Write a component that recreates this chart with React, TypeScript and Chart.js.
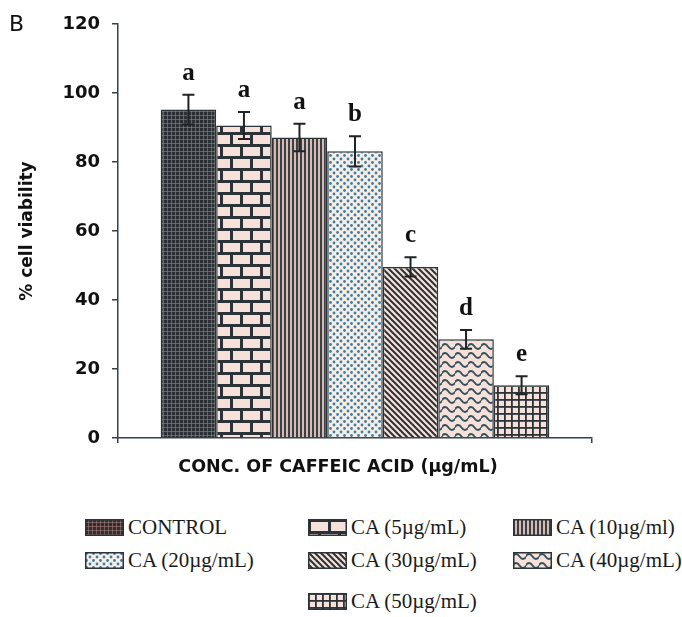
import React, { useEffect, useRef } from "react";
import { Chart, registerables } from "chart.js";

Chart.register(...registerables);

// ---------- data ----------
const CATEGORY = ["CONC. OF CAFFEIC ACID (µg/mL)"];
const SERIES_LABELS = [
  "CONTROL",
  "CA (5µg/mL)",
  "CA (10µg/ml)",
  "CA (20µg/mL)",
  "CA (30µg/mL)",
  "CA (40µg/mL)",
  "CA (50µg/mL)",
];
const VIABILITY = [95.2, 90.6, 87.1, 83.1, 49.6, 28.6, 15.3];
const ERRORS = [4.3, 3.9, 4.0, 4.4, 2.8, 2.7, 2.6];
const SIG_LETTERS = ["a", "a", "a", "b", "c", "d", "e"];
const Y_TICKS = [0, 20, 40, 60, 80, 100, 120];
const Y_TITLE = "% cell viability";
const PANEL_LABEL = "B";

// ---------- styles ----------
type PatternKind = "dense" | "brick" | "vstripe" | "dots" | "diag" | "wave" | "grid";
const PATTERN_KINDS: PatternKind[] = ["dense", "brick", "vstripe", "dots", "diag", "wave", "grid"];
const DARK = "#2b3338";
const LIGHT = "#f5e1da";

// legend slots: [column, row]
const LEGEND_SLOTS: [number, number][] = [
  [0, 0], [1, 0], [2, 0], [0, 1], [1, 1], [2, 1], [1, 2],
];
const LEGEND_COL_X = [85, 308, 513];
const LEGEND_ROW_Y = [527, 560, 601];

function makeTile(kind: PatternKind): HTMLCanvasElement {
  const c = document.createElement("canvas");
  const g = c.getContext("2d")!;
  switch (kind) {
    case "dense": {
      c.width = 4; c.height = 4;
      g.fillStyle = "#2c3034"; g.fillRect(0, 0, 4, 4);
      g.fillStyle = "rgba(180,130,120,0.55)";
      g.fillRect(3, 0, 1, 4); g.fillRect(0, 3, 4, 1);
      break;
    }
    case "brick": {
      c.width = 20; c.height = 24;
      g.fillStyle = LIGHT; g.fillRect(0, 0, 20, 24);
      g.fillStyle = DARK;
      g.fillRect(0, 0, 20, 3); g.fillRect(0, 12, 20, 3);
      g.fillRect(0, 0, 3, 12); g.fillRect(10, 12, 3, 12);
      break;
    }
    case "vstripe": {
      c.width = 4; c.height = 4;
      g.fillStyle = "#dcb8ae"; g.fillRect(0, 0, 4, 4);
      g.fillStyle = "#34424a"; g.fillRect(0, 0, 2, 4);
      break;
    }
    case "dots": {
      c.width = 7; c.height = 7;
      g.fillStyle = "#f6ece8"; g.fillRect(0, 0, 7, 7);
      g.fillStyle = "#3f7f9a";
      g.beginPath(); g.arc(1.5, 1.5, 1.4, 0, Math.PI * 2); g.fill();
      g.beginPath(); g.arc(5, 5, 1.4, 0, Math.PI * 2); g.fill();
      break;
    }
    case "diag": {
      c.width = 6; c.height = 6;
      g.fillStyle = LIGHT; g.fillRect(0, 0, 6, 6);
      g.strokeStyle = DARK; g.lineWidth = 2;
      g.beginPath();
      for (const k of [-6, 0, 6]) { g.moveTo(k - 1, -1); g.lineTo(k + 7, 7); }
      g.stroke();
      break;
    }
    case "wave": {
      c.width = 13; c.height = 9;
      g.fillStyle = LIGHT; g.fillRect(0, 0, 13, 9);
      g.strokeStyle = "#35525c"; g.lineWidth = 1.9;
      g.beginPath();
      g.moveTo(-0.5, 4.5);
      g.quadraticCurveTo(3.25, -0.5, 6.5, 4.5);
      g.quadraticCurveTo(9.75, 9.5, 13.5, 4.5);
      g.stroke();
      break;
    }
    case "grid": {
      c.width = 7; c.height = 7;
      g.fillStyle = LIGHT; g.fillRect(0, 0, 7, 7);
      g.fillStyle = DARK;
      g.fillRect(0, 0, 7, 1.8); g.fillRect(0, 0, 1.8, 7);
      break;
    }
  }
  return c;
}

function makePattern(ctx: CanvasRenderingContext2D, kind: PatternKind): CanvasPattern | string {
  return ctx.createPattern(makeTile(kind), "repeat") || "#888";
}

const errorBarPlugin = {
  id: "errorBarsLetters",
  afterDatasetsDraw(chart: any) {
    const ctx: CanvasRenderingContext2D = chart.ctx;
    const yScale = chart.scales.y;
    ctx.save();
    chart.data.datasets.forEach((_ds: any, i: number) => {
      const meta = chart.getDatasetMeta(i);
      const bar = meta.data[0];
      if (!bar) return;
      const v = VIABILITY[i];
      const e = ERRORS[i];
      const yt = yScale.getPixelForValue(v + e);
      const yb = yScale.getPixelForValue(v - e);
      ctx.strokeStyle = "#1f2326";
      ctx.lineWidth = 2;
      ctx.beginPath();
      ctx.moveTo(bar.x, yt); ctx.lineTo(bar.x, yb);
      ctx.moveTo(bar.x - 6, yt); ctx.lineTo(bar.x + 6, yt);
      ctx.moveTo(bar.x - 6, yb); ctx.lineTo(bar.x + 6, yb);
      ctx.stroke();
      ctx.fillStyle = "#111";
      ctx.font = "bold 25px 'Liberation Serif'";
      ctx.textAlign = "center";
      ctx.textBaseline = "alphabetic";
      ctx.fillText(SIG_LETTERS[i], bar.x, yt - 15);
    });
    ctx.restore();
  },
};

function Swatch({ kind }: { kind: PatternKind }) {
  const ref = useRef<HTMLCanvasElement>(null);
  useEffect(() => {
    const c = ref.current!;
    const g = c.getContext("2d")!;
    g.fillStyle = makePattern(g, kind) as any;
    g.fillRect(0, 0, c.width, c.height);
    g.strokeStyle = DARK;
    g.lineWidth = 1.5;
    g.strokeRect(0.75, 0.75, c.width - 1.5, c.height - 1.5);
  }, [kind]);
  return <canvas ref={ref} width={39} height={17} style={{ display: "block", width: 39, height: 17 }} />;
}

export default function App() {
  const canvasRef = useRef<HTMLCanvasElement>(null);

  useEffect(() => {
    const canvas = canvasRef.current!;
    const ctx = canvas.getContext("2d")!;
    const chart = new Chart(ctx, {
      type: "bar",
      data: {
        labels: CATEGORY,
        datasets: SERIES_LABELS.map((label, i) => ({
          label,
          data: [VIABILITY[i]],
          backgroundColor: makePattern(ctx, PATTERN_KINDS[i]) as any,
          borderColor: DARK,
          borderWidth: 1.5,
          categoryPercentage: 0.82,
          barPercentage: 1,
        })),
      },
      options: {
        responsive: false,
        animation: false,
        devicePixelRatio: 1,
        layout: { padding: { left: 0, top: 24, right: 90, bottom: 0 } },
        plugins: {
          legend: { display: false },
          tooltip: { enabled: false },
        },
        scales: {
          x: {
            type: "category",
            grid: { drawOnChartArea: false, drawTicks: true, tickLength: 5, color: "#33414a", lineWidth: 1.5 },
            border: { color: "#33414a", width: 1.5 },
            ticks: {
              color: "#111",
              font: { family: "'DejaVu Sans'", weight: "bold", size: 17.5 },
              padding: 14,
              labelOffset: -17,
              maxRotation: 0,
              minRotation: 0,
            },
            afterFit: (s: any) => { s.height = 57; },
          },
          y: {
            min: 0,
            max: 120,
            afterBuildTicks: (s: any) => { s.ticks = Y_TICKS.map((v) => ({ value: v })); },
            grid: { drawOnChartArea: false, drawTicks: true, tickLength: 6, color: "#33414a", lineWidth: 1.5 },
            border: { color: "#33414a", width: 1.5 },
            ticks: {
              color: "#111",
              font: { family: "'DejaVu Sans'", weight: "bold", size: 18 },
              padding: 12,
            },
            title: {
              display: true,
              text: Y_TITLE,
              color: "#111",
              font: { family: "'DejaVu Sans'", weight: "bold", size: 17 },
              padding: { top: 17, bottom: 0 },
            },
            afterFit: (s: any) => { s.width = 118; },
          },
        },
      },
      plugins: [errorBarPlugin],
    });
    return () => chart.destroy();
  }, []);

  return (
    <div style={{ position: "absolute", left: 0, top: 0, width: 682, height: 617, background: "#fff", overflow: "hidden" }}>
      <canvas ref={canvasRef} width={682} height={495} style={{ position: "absolute", left: 0, top: 0, width: 682, height: 495 }} />
      <div style={{ position: "absolute", left: 9, top: 13, fontFamily: "'DejaVu Sans'", fontSize: 22, lineHeight: "22px", color: "#111" }}>
        {PANEL_LABEL}
      </div>
      {SERIES_LABELS.map((label, i) => {
        const [col, row] = LEGEND_SLOTS[i];
        return (
          <div
            key={label}
            style={{
              position: "absolute",
              left: LEGEND_COL_X[col],
              top: LEGEND_ROW_Y[row] - 15,
              height: 30,
              display: "flex",
              alignItems: "center",
              gap: 4,
              whiteSpace: "nowrap",
            }}
          >
            <Swatch kind={PATTERN_KINDS[i]} />
            <span style={{ fontFamily: "'Liberation Serif'", fontSize: 21, lineHeight: "21px", color: "#1a1a1a" }}>{label}</span>
          </div>
        );
      })}
    </div>
  );
}
